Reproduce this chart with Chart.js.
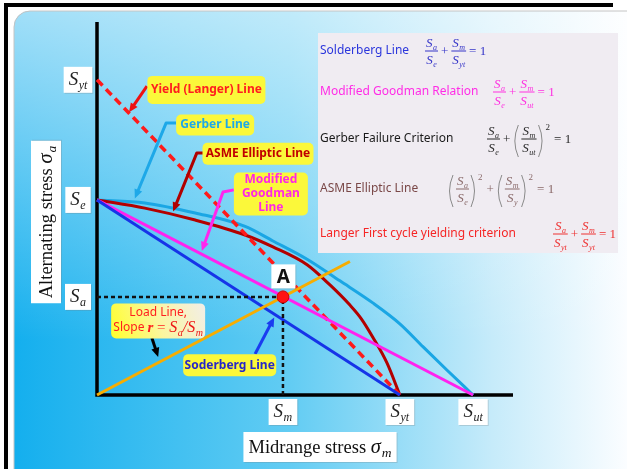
<!DOCTYPE html>
<html>
<head>
<meta charset="utf-8">
<title>Fatigue failure criteria</title>
<script src="https://cdn.jsdelivr.net/npm/chart.js@4.4.1/dist/chart.umd.min.js"></script>
<style>
  html, body { margin: 0; padding: 0; background: #fff; }
  #chart { display: block; }
</style>
</head>
<body>
<canvas id="chart" width="627" height="469"></canvas>
<script>
// ---------------- DATA (stress units) ----------------
const yTickValues = [8.45, 5.23, 2.63];
const yTickLabels = [['S', 'yt'], ['S', 'e'], ['S', 'a']];
const xTickValues = [4.47, 7.28, 9.04];
const xTickLabels = [['S', 'm'], ['S', 'yt'], ['S', 'ut']];

const langerX = [0, 7.28];
const langerY = [8.45, 0];
const soderbergX = [0, 7.28];
const soderbergY = [5.23, 0];
const goodmanX = [0, 9.04];
const goodmanY = [5.23, 0];
const gerberX = [0, 1.15, 2.36, 3.56, 4.23, 5.05, 5.84, 6.63, 7.28, 7.84, 8.41, 9.04];
const gerberY = [5.23, 5.15, 4.88, 4.52, 4.13, 3.64, 3.06, 2.47, 1.91, 1.29, 0.67, 0];
const asmeX = [0, 1.15, 2.36, 3.56, 4.23, 5.05, 5.60, 6.08, 6.35, 6.63, 6.97, 7.28];
const asmeY = [5.23, 5.01, 4.69, 4.29, 3.97, 3.49, 2.95, 2.41, 2.05, 1.55, 0.86, 0];
const loadX = [0, 6.08];
const loadY = [0, 3.58];
const guideX = [0, 4.47, 4.47];
const guideY = [2.63, 2.63, 0];
const pointAX = [4.47];
const pointAY = [2.63];

const SERIF = '"Liberation Serif", "Times New Roman", serif';
const SANS = '"Noto Sans", "DejaVu Sans", sans-serif';

// ---------------- callouts (box centre + arrow path in data units) ----------------
const callouts = [
  { lines: ['Yield (Langer) Line'], color: '#ff1e1e', arrowColor: '#ee1111', center: [2.63, 8.18], size: [118, 28],
    arrow: [[1.20, 8.28], [0.77, 7.58]] },
  { lines: ['Gerber Line'], color: '#1ea8e8', arrowColor: '#1ea8e8', center: [2.84, 7.24], size: [78, 21],
    arrow: [[1.90, 7.29], [1.66, 7.29], [0.91, 5.27]] },
  { lines: ['ASME Elliptic Line'], color: '#c00000', arrowColor: '#b00000', center: [3.87, 6.47], size: [111, 22],
    arrow: [[2.55, 6.49], [2.40, 6.49], [1.83, 4.92]] },
  { lines: ['Modified', 'Goodman', 'Line'], color: '#ff26e6', arrowColor: '#ff26ee', center: [4.18, 5.39], size: [74, 43],
    arrow: [[3.29, 5.50], [3.03, 5.44], [2.52, 3.86]] },
  { lines: ['Soderberg Line'], color: '#2626c8', arrowColor: '#1a3cf0', center: [3.19, 0.80], size: [93, 22],
    arrow: [[3.80, 1.10], [4.26, 2.08]] }
];

// ---------------- formula panel ----------------
const formulaRows = [
  { label: 'Solderberg Line', color: '#2b36dc', fColor: '#3434c8', y: 51, fx: 425,
    f: [{ frac: [['S', 'a'], ['S', 'e']] }, { op: '+' }, { frac: [['S', 'm'], ['S', 'yt']] }, { op: '= 1' }] },
  { label: 'Modified Goodman Relation', color: '#ff2ce6', fColor: '#ff30e0', y: 92, fx: 493,
    f: [{ frac: [['S', 'a'], ['S', 'e']] }, { op: '+' }, { frac: [['S', 'm'], ['S', 'ut']] }, { op: '= 1' }] },
  { label: 'Gerber Failure Criterion', color: '#1a1a1a', fColor: '#2a2a2a', y: 139, fx: 487,
    f: [{ frac: [['S', 'a'], ['S', 'e']] }, { op: '+' }, { paren: '(' }, { frac: [['S', 'm'], ['S', 'ut']] },
        { paren: ')' }, { sup: '2' }, { op: '= 1' }] },
  { label: 'ASME Elliptic Line', color: '#7a4848', fColor: '#8a6a6a', y: 189, fx: 448,
    f: [{ paren: '(' }, { frac: [['S', 'a'], ['S', 'e']] }, { paren: ')' }, { sup: '2' }, { op: '+' },
        { paren: '(' }, { frac: [['S', 'm'], ['S', 'y']] }, { paren: ')' }, { sup: '2' }, { op: '= 1' }] },
  { label: 'Langer First cycle yielding criterion', color: '#f52626', fColor: '#ee3030', y: 234, fx: 553,
    f: [{ frac: [['S', 'a'], ['S', 'yt']] }, { op: '+' }, { frac: [['S', 'm'], ['S', 'yt']] }, { op: '= 1' }] }
];

// ---------------- helpers ----------------
function symWidth(ctx, base, sub, size) {
  ctx.font = `italic ${size}px ${SERIF}`;
  let w = ctx.measureText(base).width;
  if (sub) {
    ctx.font = `italic ${Math.round(size * 0.62)}px ${SERIF}`;
    w += ctx.measureText(sub).width + 0.5;
  }
  return w;
}

function drawSym(ctx, x, y, base, sub, size, color) {
  ctx.fillStyle = color;
  ctx.textAlign = 'left';
  ctx.textBaseline = 'alphabetic';
  ctx.font = `italic ${size}px ${SERIF}`;
  ctx.fillText(base, x, y);
  if (sub) {
    const w = ctx.measureText(base).width;
    ctx.font = `italic ${Math.round(size * 0.62)}px ${SERIF}`;
    ctx.fillText(sub, x + w + 0.5, y + size * 0.22);
  }
}

function drawFormula(ctx, x, y, tokens, color) {
  const size = 13;
  let cx = x;
  tokens.forEach(tok => {
    if (tok.frac) {
      const [n, d] = tok.frac;
      const wn = symWidth(ctx, n[0], n[1], size);
      const wd = symWidth(ctx, d[0], d[1], size);
      const w = Math.max(wn, wd) + 2;
      drawSym(ctx, cx + (w - wn) / 2, y - 4, n[0], n[1], size, color);
      drawSym(ctx, cx + (w - wd) / 2, y + 13, d[0], d[1], size, color);
      ctx.fillStyle = color;
      ctx.fillRect(cx, y - 0.5, w, 1);
      cx += w + 2;
    } else if (tok.paren) {
      ctx.strokeStyle = '#8a8a8a';
      ctx.lineWidth = 1;
      ctx.beginPath();
      if (tok.paren === '(') {
        ctx.moveTo(cx + 5, y - 14);
        ctx.quadraticCurveTo(cx - 2, y + 2, cx + 5, y + 18);
      } else {
        ctx.moveTo(cx, y - 14);
        ctx.quadraticCurveTo(cx + 7, y + 2, cx, y + 18);
      }
      ctx.stroke();
      cx += 8;
    } else if (tok.sup) {
      ctx.fillStyle = color;
      ctx.font = `9px ${SERIF}`;
      ctx.textBaseline = 'alphabetic';
      ctx.fillText(tok.sup, cx - 1, y - 9);
      cx += ctx.measureText(tok.sup).width + 2;
    } else {
      ctx.fillStyle = color;
      ctx.font = `13px ${SERIF}`;
      ctx.textBaseline = 'middle';
      ctx.fillText(tok.op, cx + 1, y + 1);
      cx += ctx.measureText(tok.op).width + 4;
    }
  });
}

function arrow(ctx, pts, color) {
  const head = 10;
  const [tx, ty] = pts[pts.length - 1];
  const [px, py] = pts[pts.length - 2];
  const ang = Math.atan2(ty - py, tx - px);
  ctx.strokeStyle = color;
  ctx.fillStyle = color;
  ctx.lineWidth = 3;
  ctx.lineJoin = 'round';
  ctx.beginPath();
  ctx.moveTo(pts[0][0], pts[0][1]);
  for (let i = 1; i < pts.length - 1; i++) ctx.lineTo(pts[i][0], pts[i][1]);
  ctx.lineTo(tx - Math.cos(ang) * head * 0.8, ty - Math.sin(ang) * head * 0.8);
  ctx.stroke();
  ctx.beginPath();
  ctx.moveTo(tx, ty);
  ctx.lineTo(tx - head * Math.cos(ang - 0.42), ty - head * Math.sin(ang - 0.42));
  ctx.lineTo(tx - head * Math.cos(ang + 0.42), ty - head * Math.sin(ang + 0.42));
  ctx.closePath();
  ctx.fill();
}

function whiteBox(ctx, x, y, w, h) {
  ctx.fillStyle = 'rgba(120,120,120,0.25)';
  ctx.fillRect(x + 1, y + 1, w, h);
  ctx.fillStyle = '#ffffff';
  ctx.fillRect(x, y, w, h);
}

function tickLabel(ctx, cx, cy, label) {
  const size = 19;
  const w = symWidth(ctx, label[0], label[1], size);
  whiteBox(ctx, cx - w / 2 - 5, cy - 13, w + 10, 26);
  drawSym(ctx, cx - w / 2, cy + 5, label[0], label[1], size, '#222');
}

// ---------------- drawing plugin ----------------
const artPlugin = {
  id: 'art',
  beforeDraw(chart) {
    const { ctx, width, height } = chart;
    ctx.save();
    ctx.fillStyle = '#ffffff';
    ctx.fillRect(0, 0, width, height);

    // rounded light-blue panel
    ctx.beginPath();
    ctx.roundRect(14, 11, 660, 520, 16);
    const g = ctx.createLinearGradient(14, 0, width, 0);
    g.addColorStop(0, '#14afee');
    g.addColorStop(0.45, '#62ccf3');
    g.addColorStop(0.78, '#c6ebfa');
    g.addColorStop(1, '#fbfdff');
    ctx.fillStyle = g;
    ctx.fill();
    const v = ctx.createLinearGradient(0, 11, 0, 340);
    v.addColorStop(0, 'rgba(255,255,255,0.6)');
    v.addColorStop(1, 'rgba(255,255,255,0)');
    ctx.fillStyle = v;
    ctx.fill();
    ctx.strokeStyle = '#c4c4c4';
    ctx.lineWidth = 1;
    ctx.stroke();

    // black frame
    ctx.fillStyle = '#000';
    ctx.fillRect(4, 3, 609, 4);
    ctx.fillRect(4, 3, 4, height);

    // formula panel
    ctx.fillStyle = '#f0ecf2';
    ctx.fillRect(318, 33, 300, 220);
    formulaRows.forEach(row => {
      ctx.fillStyle = row.color;
      ctx.font = `12px ${SANS}`;
      ctx.textAlign = 'left';
      ctx.textBaseline = 'middle';
      ctx.fillText(row.label, 320, row.y);
      drawFormula(ctx, row.fx, row.y, row.f, row.fColor);
    });
    ctx.restore();
  },
  beforeDatasetsDraw(chart) {
    const { ctx, chartArea: a } = chart;
    ctx.save();
    ctx.strokeStyle = '#000';
    ctx.lineWidth = 3.5;
    ctx.beginPath();
    ctx.moveTo(a.left, a.top);
    ctx.lineTo(a.left, a.bottom);
    ctx.lineTo(a.right, a.bottom);
    ctx.stroke();
    ctx.restore();
  },
  afterDatasetsDraw(chart) {
    const { ctx, chartArea: a } = chart;
    const xs = chart.scales.x, ys = chart.scales.y;
    const at = (p) => [xs.getPixelForValue(p[0]), ys.getPixelForValue(p[1])];
    ctx.save();

    // tick labels
    yTickValues.forEach((v, i) => tickLabel(ctx, a.left - 19, ys.getPixelForValue(v), yTickLabels[i]));
    xTickValues.forEach((v, i) => tickLabel(ctx, xs.getPixelForValue(v), a.bottom + 17, xTickLabels[i]));

    // callouts
    callouts.forEach(c => {
      const [cx, cy] = at(c.center);
      const [w, h] = c.size;
      arrow(ctx, c.arrow.map(at), c.arrowColor);
      ctx.fillStyle = '#fbf83a';
      ctx.beginPath();
      ctx.roundRect(cx - w / 2, cy - h / 2, w, h, 5);
      ctx.fill();
      ctx.fillStyle = c.color;
      ctx.font = `bold 12px ${SANS}`;
      ctx.textAlign = 'center';
      ctx.textBaseline = 'middle';
      const lh = 14;
      c.lines.forEach((t, i) => ctx.fillText(t, cx, cy + (i - (c.lines.length - 1) / 2) * lh));
    });

    // load line callout
    const [lx, ly] = at([1.47, 2.0]);
    arrow(ctx, [[1.32, 1.53], [1.47, 1.02]].map(at), '#000');
    const lg = ctx.createLinearGradient(lx - 47, ly + 17, lx + 47, ly - 17);
    lg.addColorStop(0, '#ffff2a');
    lg.addColorStop(0.5, '#fbf6a0');
    lg.addColorStop(1, '#f2eee8');
    ctx.fillStyle = lg;
    ctx.beginPath();
    ctx.roundRect(lx - 47, ly - 17, 94, 35, 5);
    ctx.fill();
    ctx.fillStyle = '#ff1e1e';
    ctx.font = `12px ${SANS}`;
    ctx.textAlign = 'center';
    ctx.textBaseline = 'middle';
    ctx.fillText('Load Line,', lx, ly - 8);
    ctx.font = `12px ${SANS}`;
    const wSlope = ctx.measureText('Slope ').width;
    ctx.font = `bold italic 15px ${SERIF}`;
    const wR = ctx.measureText('r').width;
    ctx.font = `15px ${SERIF}`;
    const wEq = ctx.measureText(' = ').width;
    const wSa = symWidth(ctx, 'S', 'a', 16);
    ctx.font = `italic 16px ${SERIF}`;
    const wSl = ctx.measureText('/').width;
    const wSm = symWidth(ctx, 'S', 'm', 16);
    let sx = lx - (wSlope + wR + wEq + wSa + wSl + wSm) / 2;
    const by = ly + 12;
    ctx.textAlign = 'left';
    ctx.textBaseline = 'alphabetic';
    ctx.font = `12px ${SANS}`;
    ctx.fillText('Slope ', sx, by - 1); sx += wSlope;
    ctx.font = `bold italic 15px ${SERIF}`;
    ctx.fillText('r', sx, by); sx += wR;
    ctx.font = `15px ${SERIF}`;
    ctx.fillText(' = ', sx, by); sx += wEq;
    drawSym(ctx, sx, by, 'S', 'a', 16, '#ee1414'); sx += wSa;
    ctx.font = `italic 16px ${SERIF}`;
    ctx.fillText('/', sx, by); sx += wSl;
    drawSym(ctx, sx, by, 'S', 'm', 16, '#ee1414');

    // point A label
    const [ax, ay] = at([4.48, 3.18]);
    whiteBox(ctx, ax - 12, ay - 12, 24, 24);
    ctx.fillStyle = '#111';
    ctx.font = `bold 19px ${SANS}`;
    ctx.textAlign = 'center';
    ctx.textBaseline = 'middle';
    ctx.fillText('A', ax, ay + 1);

    // axis titles
    const titleSize = 18.5;
    function titleWidth(main, sub) {
      ctx.font = `${titleSize}px ${SERIF}`;
      let w = ctx.measureText(main).width;
      ctx.font = `italic ${titleSize + 2}px ${SERIF}`;
      w += ctx.measureText('σ').width;
      ctx.font = `italic ${titleSize - 5}px ${SERIF}`;
      return w + ctx.measureText(sub).width + 1;
    }
    function drawTitle(main, sub, cx, cy) {
      const w = titleWidth(main, sub);
      whiteBox(ctx, cx - w / 2 - 5, cy - 15, w + 10, 30);
      let x = cx - w / 2;
      const base = cy + 6;
      ctx.fillStyle = '#111';
      ctx.textAlign = 'left';
      ctx.textBaseline = 'alphabetic';
      ctx.font = `${titleSize}px ${SERIF}`;
      ctx.fillText(main, x, base);
      x += ctx.measureText(main).width;
      ctx.font = `italic ${titleSize + 2}px ${SERIF}`;
      ctx.fillText('σ', x, base);
      x += ctx.measureText('σ').width + 1;
      ctx.font = `italic ${titleSize - 5}px ${SERIF}`;
      ctx.fillText(sub, x, base + 4);
    }
    drawTitle('Midrange stress ', 'm', 320, 447);
    ctx.save();
    ctx.translate(46, 222);
    ctx.rotate(-Math.PI / 2);
    drawTitle('Alternating stress ', 'a', 0, 0);
    ctx.restore();

    ctx.restore();
  }
};

// ---------------- chart ----------------
const series = (xs, ys, color, extra = {}) => ({
  data: xs.map((x, i) => ({ x, y: ys[i] })),
  showLine: true,
  borderColor: color,
  backgroundColor: color,
  borderWidth: 3,
  pointRadius: 0,
  fill: false,
  clip: false,
  ...extra
});

new Chart(document.getElementById('chart'), {
  type: 'scatter',
  data: {
    datasets: [
      series(pointAX, pointAY, '#ff1212', { showLine: false, pointRadius: 6, pointBorderColor: '#d00000', pointBorderWidth: 1 }),
      series(loadX, loadY, '#f7ad00'),
      series(guideX, guideY, '#111111', { borderWidth: 2.5, borderDash: [4, 3] }),
      series(soderbergX, soderbergY, '#1634e8'),
      series(goodmanX, goodmanY, '#ff22ee'),
      series(langerX, langerY, '#ff1a1a', { borderWidth: 3.5, borderDash: [8, 5] }),
      series(asmeX, asmeY, '#b30000', { cubicInterpolationMode: 'monotone' }),
      series(gerberX, gerberY, '#1aa6e4', { cubicInterpolationMode: 'monotone' })
    ]
  },
  options: {
    responsive: false,
    animation: false,
    devicePixelRatio: 1,
    layout: { padding: { left: 97, right: 114, top: 22, bottom: 74 } },
    scales: {
      x: { type: 'linear', min: 0, max: 10, display: false },
      y: { type: 'linear', min: 0, max: 10, display: false }
    },
    plugins: { legend: { display: false }, tooltip: { enabled: false } }
  },
  plugins: [artPlugin]
});
</script>
</body>
</html>
